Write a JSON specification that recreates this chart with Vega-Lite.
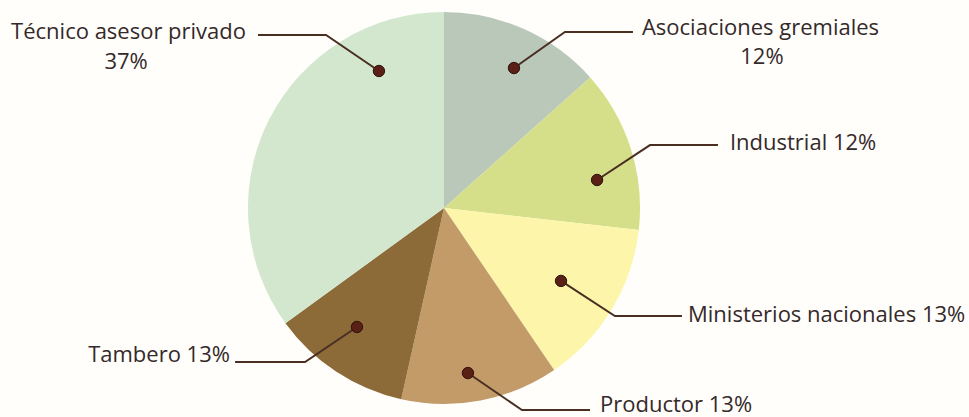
{
  "$schema": "https://vega.github.io/schema/vega-lite/v6.json",
  "width": 969,
  "height": 417,
  "autosize": {"type": "fit", "contains": "padding"},
  "padding": 0,
  "background": "#fffefa",
  "config": {"view": {"stroke": null}},
  "datasets": {
    "slices": [
      {"k": 1, "category": "Asociaciones gremiales", "share": 13.4},
      {"k": 2, "category": "Industrial", "share": 13.4},
      {"k": 3, "category": "Ministerios nacionales", "share": 13.7},
      {"k": 4, "category": "Productor", "share": 13.0},
      {"k": 5, "category": "Tambero", "share": 11.5},
      {"k": 6, "category": "Técnico asesor privado", "share": 35.0}
    ],
    "leaders": [
      {"category": "Técnico asesor privado", "step": 1, "x": -0.332, "y": 0.699},
      {"category": "Técnico asesor privado", "step": 2, "x": -0.602, "y": 0.883},
      {"category": "Técnico asesor privado", "step": 3, "x": -0.949, "y": 0.883},
      {"category": "Asociaciones gremiales", "step": 1, "x": 0.357, "y": 0.714},
      {"category": "Asociaciones gremiales", "step": 2, "x": 0.617, "y": 0.898},
      {"category": "Asociaciones gremiales", "step": 3, "x": 0.964, "y": 0.898},
      {"category": "Industrial", "step": 1, "x": 0.781, "y": 0.143},
      {"category": "Industrial", "step": 2, "x": 1.051, "y": 0.321},
      {"category": "Industrial", "step": 3, "x": 1.398, "y": 0.321},
      {"category": "Ministerios nacionales", "step": 1, "x": 0.597, "y": -0.372},
      {"category": "Ministerios nacionales", "step": 2, "x": 0.872, "y": -0.551},
      {"category": "Ministerios nacionales", "step": 3, "x": 1.214, "y": -0.551},
      {"category": "Productor", "step": 1, "x": 0.122, "y": -0.842},
      {"category": "Productor", "step": 2, "x": 0.398, "y": -1.031},
      {"category": "Productor", "step": 3, "x": 0.745, "y": -1.031},
      {"category": "Tambero", "step": 1, "x": -0.444, "y": -0.607},
      {"category": "Tambero", "step": 2, "x": -0.709, "y": -0.786},
      {"category": "Tambero", "step": 3, "x": -1.066, "y": -0.786}
    ],
    "labels": [
      {"text": "Técnico asesor privado", "side": "right", "x": -1.010, "y": 0.898},
      {"text": "37%", "side": "center", "x": -1.622, "y": 0.745},
      {"text": "Asociaciones gremiales", "side": "left", "x": 1.010, "y": 0.918},
      {"text": "12%", "side": "center", "x": 1.622, "y": 0.770},
      {"text": "Industrial 12%", "side": "left", "x": 1.459, "y": 0.332},
      {"text": "Ministerios nacionales 13%", "side": "left", "x": 1.245, "y": -0.546},
      {"text": "Productor 13%", "side": "left", "x": 0.796, "y": -1.005},
      {"text": "Tambero 13%", "side": "right", "x": -1.092, "y": -0.750}
    ]
  },
  "layer": [
    {
      "data": {"name": "slices"},
      "mark": {"type": "arc", "outerRadius": 196},
      "encoding": {
        "theta": {"field": "share", "type": "quantitative", "stack": true},
        "order": {"field": "k", "type": "quantitative"},
        "x": {"datum": 0, "type": "quantitative", "scale": {"domain": [-2.2653, 2.6786], "nice": false, "zero": false}, "axis": null},
        "y": {"datum": 0, "type": "quantitative", "scale": {"domain": [-1.0663, 1.0612], "nice": false, "zero": false}, "axis": null},
        "color": {
          "field": "category",
          "type": "nominal",
          "scale": {
            "domain": ["Asociaciones gremiales", "Industrial", "Ministerios nacionales", "Productor", "Tambero", "Técnico asesor privado"],
            "range": ["#b9c8b9", "#d5df8a", "#fdf6aa", "#c29b69", "#8c6b39", "#d3e7cf"]
          },
          "legend": null
        }
      }
    },
    {
      "data": {"name": "leaders"},
      "mark": {"type": "line", "color": "#4a2e22", "strokeWidth": 2},
      "encoding": {
        "x": {"field": "x", "type": "quantitative"},
        "y": {"field": "y", "type": "quantitative"},
        "detail": {"field": "category"},
        "order": {"field": "step", "type": "quantitative"}
      }
    },
    {
      "data": {"name": "leaders"},
      "transform": [{"filter": "datum.step == 1"}],
      "mark": {"type": "circle", "size": 130, "color": "#5a2015", "opacity": 1, "stroke": "#2e120c", "strokeWidth": 1},
      "encoding": {
        "x": {"field": "x", "type": "quantitative"},
        "y": {"field": "y", "type": "quantitative"}
      }
    },
    {
      "data": {"name": "labels"},
      "transform": [{"filter": "datum.side == 'left'"}],
      "mark": {"type": "text", "align": "left", "baseline": "middle", "font": "Open Sans", "fontSize": 22, "color": "#35292a"},
      "encoding": {
        "x": {"field": "x", "type": "quantitative"},
        "y": {"field": "y", "type": "quantitative"},
        "text": {"field": "text"}
      }
    },
    {
      "data": {"name": "labels"},
      "transform": [{"filter": "datum.side == 'right'"}],
      "mark": {"type": "text", "align": "right", "baseline": "middle", "font": "Open Sans", "fontSize": 22, "color": "#35292a"},
      "encoding": {
        "x": {"field": "x", "type": "quantitative"},
        "y": {"field": "y", "type": "quantitative"},
        "text": {"field": "text"}
      }
    },
    {
      "data": {"name": "labels"},
      "transform": [{"filter": "datum.side == 'center'"}],
      "mark": {"type": "text", "align": "center", "baseline": "middle", "font": "Open Sans", "fontSize": 22, "color": "#35292a"},
      "encoding": {
        "x": {"field": "x", "type": "quantitative"},
        "y": {"field": "y", "type": "quantitative"},
        "text": {"field": "text"}
      }
    }
  ]
}
